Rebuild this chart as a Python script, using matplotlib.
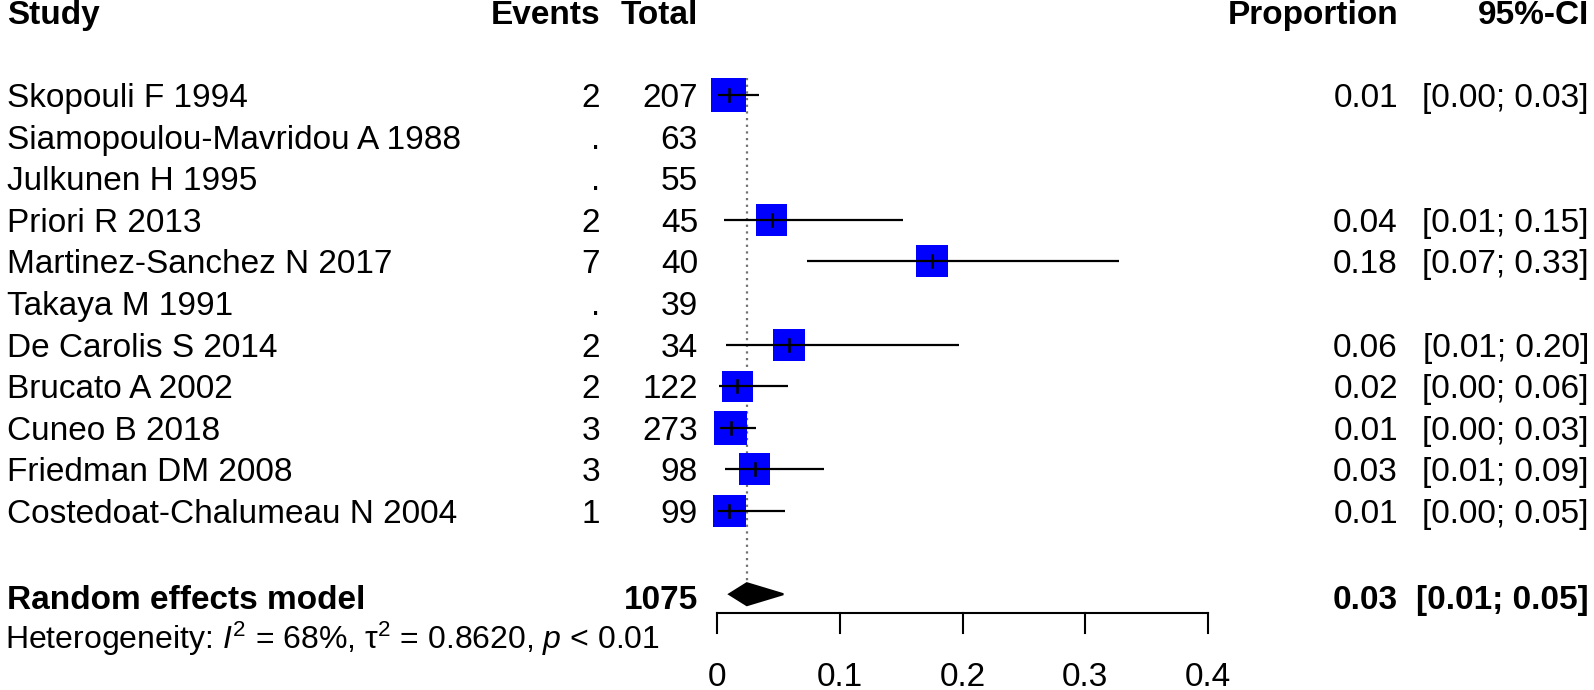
"""Forest plot of proportions (random effects meta-analysis)."""
import numpy as np
import matplotlib.pyplot as plt
from matplotlib.patches import Rectangle, Polygon

plt.rcParams['font.family'] = ['Liberation Sans', 'DejaVu Sans']
plt.rcParams['mathtext.fontset'] = 'custom'
plt.rcParams['mathtext.rm'] = 'Liberation Sans'
plt.rcParams['mathtext.it'] = 'Liberation Sans:italic'
plt.rcParams['mathtext.bf'] = 'Liberation Sans:bold'

studies = ["Skopouli F 1994", "Siamopoulou-Mavridou A 1988", "Julkunen H 1995",
           "Priori R 2013", "Martinez-Sanchez N 2017", "Takaya M 1991",
           "De Carolis S 2014", "Brucato A 2002", "Cuneo B 2018",
           "Friedman DM 2008", "Costedoat-Chalumeau N 2004"]
events = [2, None, None, 2, 7, None, 2, 2, 3, 3, 1]
totals = [207, 63, 55, 45, 40, 39, 34, 122, 273, 98, 99]
prop = [0.0097, np.nan, np.nan, 0.0444, 0.175, np.nan, 0.0588, 0.0164, 0.0110, 0.0306, 0.0101]
lower = [0.0012, np.nan, np.nan, 0.0054, 0.0734, np.nan, 0.0072, 0.0020, 0.0023, 0.0064, 0.0003]
upper = [0.0345, np.nan, np.nan, 0.1515, 0.3278, np.nan, 0.1968, 0.0580, 0.0318, 0.0869, 0.0550]
weights = [14.4, np.nan, np.nan, 12.0, 12.0, np.nan, 12.0, 11.3, 13.6, 12.0, 12.8]
prop_txt = ["0.01", "", "", "0.04", "0.18", "", "0.06", "0.02", "0.01", "0.03", "0.01"]
ci_txt = ["[0.00; 0.03]", "", "", "[0.01; 0.15]", "[0.07; 0.33]", "",
          "[0.01; 0.20]", "[0.00; 0.06]", "[0.00; 0.03]", "[0.01; 0.09]", "[0.00; 0.05]"]

pooled_est, pooled_lo, pooled_hi = 0.0243, 0.0100, 0.0540
pooled_total = 1075
pooled_txt, pooled_ci_txt = "0.03", "[0.01; 0.05]"
hetero = r"Heterogeneity: $\mathit{I}^2$ = 68%, $\mathrm{\tau}^2$ = 0.8620, $\mathit{p}$ < 0.01"

xticks = [0, 0.1, 0.2, 0.3, 0.4]
xticklabels = ["0", "0.1", "0.2", "0.3", "0.4"]

# layout: pixel geometry of the figure
W, H = 1594, 690
X0, XS = 717.0, 1227.5   # pixel of x=0, pixels per unit
Y0, YS = 95.0, 41.6      # pixel of first row, pixels per row

fig = plt.figure(figsize=(W / 100, H / 100), dpi=100)
ax = fig.add_axes([0, 0, 1, 1])
ax.set_xlim(-X0 / XS, (W - X0) / XS)
ax.set_ylim((H - Y0) / YS, -Y0 / YS)
ax.axis('off')

def px(x):
    return (x - X0) / XS

def dy(p):
    return p / YS

FS = 24
base = dy(12)  # baseline offset below row centre

# header
hy = -2 + base
ax.text(px(7), hy, "Study", fontsize=FS, fontweight='bold', ha='left', va='baseline')
ax.text(px(600), hy, "Events", fontsize=FS, fontweight='bold', ha='right', va='baseline')
ax.text(px(698), hy, "Total", fontsize=FS, fontweight='bold', ha='right', va='baseline')
ax.text(px(1398), hy, "Proportion", fontsize=FS, fontweight='bold', ha='right', va='baseline')
ax.text(px(1589), hy, "95%-CI", fontsize=FS, fontweight='bold', ha='right', va='baseline')

n_rows = len(studies)
pooled_row = n_rows + 1

# reference line at pooled estimate
ax.plot([pooled_est, pooled_est], [-0.42, pooled_row - dy(11)], color='#707070',
        lw=1.6, linestyle=(0, (1, 2.0)), zorder=1)

for i in range(n_rows):
    y = i + base
    ax.text(px(7), y, studies[i], fontsize=FS, ha='left', va='baseline')
    ev = "." if events[i] is None else str(events[i])
    ax.text(px(600), y, ev, fontsize=FS, ha='right', va='baseline')
    ax.text(px(698), y, str(totals[i]), fontsize=FS, ha='right', va='baseline')
    ax.text(px(1398), y, prop_txt[i], fontsize=FS, ha='right', va='baseline')
    ax.text(px(1589), y, ci_txt[i], fontsize=FS, ha='right', va='baseline')
    if np.isnan(prop[i]):
        continue
    side = 9.2 * np.sqrt(weights[i])
    hw, hh = side / 2 / XS, dy(side / 2)
    ax.add_patch(Rectangle((prop[i] - hw, i - hh), 2 * hw, 2 * hh,
                           facecolor='#0000FF', edgecolor='none', zorder=2))
    ax.plot([lower[i], upper[i]], [i, i], color='black', lw=1.6, zorder=3,
            solid_capstyle='butt')
    ax.plot([prop[i], prop[i]], [i - dy(6), i + dy(6)], color='black', lw=1.8, zorder=3)

# pooled row
py_ = pooled_row + base + dy(3)
ax.text(px(7), py_, "Random effects model", fontsize=FS, fontweight='bold', ha='left', va='baseline')
ax.text(px(698), py_, str(pooled_total), fontsize=FS, fontweight='bold', ha='right', va='baseline')
ax.text(px(1398), py_, pooled_txt, fontsize=FS, fontweight='bold', ha='right', va='baseline')
ax.text(px(1589), py_, pooled_ci_txt, fontsize=FS, fontweight='bold', ha='right', va='baseline')
dh = dy(11)
ax.add_patch(Polygon([(pooled_lo, pooled_row), (pooled_est, pooled_row - dh),
                      (pooled_hi, pooled_row), (pooled_est, pooled_row + dh)],
                     closed=True, facecolor='black', edgecolor='black', lw=1.5, zorder=3))

ax.text(px(5), pooled_row + dy(44) + dy(11), hetero, fontsize=23, ha='left', va='baseline')

# x axis
axis_y = (613 - Y0) / YS
ax.plot([xticks[0], xticks[-1]], [axis_y, axis_y], color='black', lw=1.5,
        solid_capstyle='projecting')
for t, lab in zip(xticks, xticklabels):
    ax.plot([t, t], [axis_y, axis_y + dy(20)], color='black', lw=1.5)
    ax.text(t, (686 - Y0) / YS, lab, fontsize=FS, ha='center', va='baseline')

fig.savefig("out.png", dpi=100)
